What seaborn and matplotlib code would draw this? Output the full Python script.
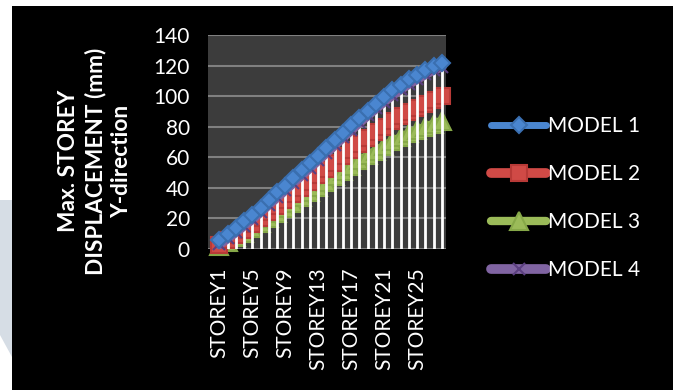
import numpy as np
import pandas as pd
import seaborn as sns
import matplotlib.pyplot as plt
from matplotlib.patches import Rectangle, Polygon

# Storey numbers and tick labels (every 4th storey is labelled)
storeys = list(range(1, 29))
tick_storeys = [1, 5, 9, 13, 17, 21, 25]
tick_labels = [f"STOREY{s}" for s in tick_storeys]

# Max. storey displacement (mm), Y-direction
model_1 = [6, 10, 14, 18.5, 22.5, 27, 32, 37, 41.5, 46.5, 51.5, 56, 61, 66,
           71, 76, 81, 86, 90.5, 95, 99.5, 104, 107.5, 111, 114, 117, 120, 122]
model_2 = [2.5, 5.8, 9.1, 12.7, 16.2, 20, 24, 28, 32, 36, 40, 44, 48.2, 52.3,
           56.4, 60.6, 64.6, 68.7, 72.5, 76.4, 80, 83.6, 86.7, 89.6, 92.3, 94.9, 97.3, 100]
model_3 = [2, 4.9, 7.7, 10.7, 13.7, 17, 20.3, 23.7, 27, 30.4, 33.8, 37.2, 40.7, 44.1,
           47.6, 51.1, 54.5, 58, 61.2, 64.4, 67.5, 70.5, 73.2, 75.6, 77.8, 80, 82, 84]
model_4 = [3, 7, 11, 15.3, 19.5, 24.2, 29, 33.8, 38.6, 43.4, 48.3, 53.2, 58.1, 63,
           68, 73, 77.8, 82.8, 87.4, 92, 96.4, 100.7, 104.5, 108, 111.2, 114.3, 117.2, 119.3]

models = ["MODEL 1", "MODEL 2", "MODEL 3", "MODEL 4"]
df = pd.DataFrame({
    "storey": storeys * 4,
    "disp": model_1 + model_2 + model_3 + model_4,
    "model": np.repeat(models, len(storeys)),
})

colors = {"MODEL 1": "#4A86D0", "MODEL 2": "#D04A46",
          "MODEL 3": "#9BBB59", "MODEL 4": "#8064A2"}
edge = {"MODEL 1": "#3A6FB0", "MODEL 2": "#B83A37",
        "MODEL 3": "#86A848", "MODEL 4": "#5B3F80"}
markers = {"MODEL 1": "D", "MODEL 2": "s", "MODEL 3": "^", "MODEL 4": "x"}
msizes = {"MODEL 1": 8, "MODEL 2": 12, "MODEL 3": 13, "MODEL 4": 8}
lws = {"MODEL 1": 5, "MODEL 2": 7, "MODEL 3": 6, "MODEL 4": 7}
zorders = {"MODEL 1": 6, "MODEL 2": 3, "MODEL 3": 2, "MODEL 4": 5}

sns.set_style("dark")
plt.rcParams["font.family"] = ["Lato", "DejaVu Sans"]

fig = plt.figure(figsize=(6.73, 3.90), dpi=100)
fig.patch.set_facecolor("white")
fig.patches.append(Rectangle((12 / 673, 0), 1, 384 / 390, transform=fig.transFigure,
                             facecolor="black", edgecolor="none", zorder=-10))
fig.patches.append(Polygon([(0, 1 - 200 / 390), (12 / 673, 1 - 200 / 390),
                            (12 / 673, 1 - 357 / 390), (0, 1 - 335 / 390)],
                           closed=True, transform=fig.transFigure,
                           facecolor="#D6DDE5", edgecolor="none", zorder=-10))

ax = fig.add_axes([208 / 673, 1 - 249 / 390, (446 - 208) / 673, (249 - 35) / 390])
ax.set_facecolor("#3C3C3C")

# white drop lines
ax.vlines(storeys, 0, model_4, color="white", linewidth=2, zorder=4)

for m in ["MODEL 3", "MODEL 2", "MODEL 4", "MODEL 1"]:
    sub = df[df["model"] == m]
    sns.lineplot(data=sub, x="storey", y="disp", ax=ax, color=colors[m],
                 marker=markers[m], markersize=msizes[m], linewidth=lws[m],
                 markeredgecolor=edge[m], markeredgewidth=1.5, label=m,
                 zorder=zorders[m], clip_on=False)

ax.set_xlim(-0.37, 28.5)
ax.set_ylim(0, 140)
ax.set_yticks(range(0, 141, 20))
ax.set_xticks(tick_storeys)
ax.set_xticklabels(tick_labels, rotation=90)
ax.tick_params(axis="both", colors="white", labelsize=15, length=0, pad=13)
ax.grid(axis="y", color="#808080", linewidth=1.5)
ax.grid(axis="x", visible=False)
for sp in ax.spines.values():
    sp.set_visible(False)
ax.set_xlabel("")
ax.set_ylabel("")

fig.text(95 / 673, 1 - 161 / 390, "Max. STOREY\nDISPLACEMENT (mm)\nY-direction",
         rotation=90, ha="center", va="center", color="white",
         fontsize=16.3, fontweight="bold", linespacing=1.3)

handles, labels = ax.get_legend_handles_labels()
order = [labels.index(m) for m in models]
leg = ax.legend([handles[i] for i in order], models, loc="center left",
                bbox_to_anchor=(481 / 673, 1 - 198 / 390), bbox_transform=fig.transFigure,
                frameon=False, fontsize=15, labelcolor="white", handlelength=2.6,
                handletextpad=0.1, labelspacing=1.35, borderpad=0)

fig.savefig("out.png", dpi=100, facecolor=fig.get_facecolor())
plt.close(fig)
